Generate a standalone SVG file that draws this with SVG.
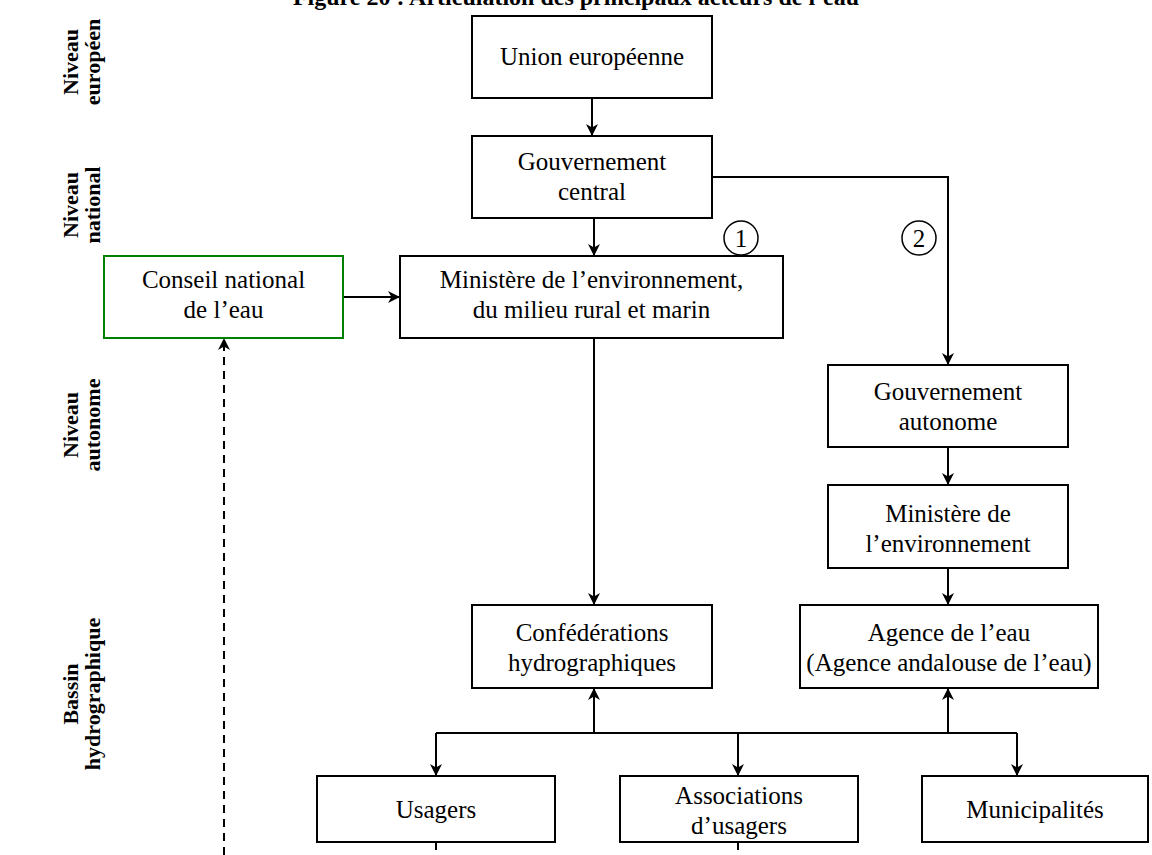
<svg xmlns="http://www.w3.org/2000/svg" width="1152" height="855" viewBox="0 0 1152 855">
<defs>
<marker id="ah" viewBox="0 0 12 12" refX="12" refY="6" markerWidth="12" markerHeight="12" markerUnits="userSpaceOnUse" orient="auto">
<path d="M0,0 L12,6 L0,12 L3.5,6 z" fill="#000"/>
</marker>
<style>
.box{fill:#fff;stroke:#000;stroke-width:2}
.green{fill:#fff;stroke:#008000;stroke-width:2}
.t{font-family:"Liberation Serif","Times New Roman",serif;font-size:25px;fill:#000;text-anchor:middle}
.lab{font-family:"Liberation Serif","Times New Roman",serif;font-size:22px;font-weight:bold;fill:#000;text-anchor:middle}
.title{font-family:"Liberation Serif","Times New Roman",serif;font-size:24px;font-weight:bold;fill:#000;text-anchor:middle}
.c{fill:none;stroke:#000;stroke-width:2}
.d{fill:none;stroke:#000;stroke-width:2;stroke-dasharray:8,6}
</style>
</defs>
<rect width="1152" height="855" fill="#fff"/>
<text class="title" x="576" y="5">Figure 20 : Articulation des principaux acteurs de l’eau</text>

<g id="labels">
<text class="lab" transform="translate(78,62) rotate(-90)">Niveau</text>
<text class="lab" transform="translate(100,62) rotate(-90)">européen</text>
<text class="lab" transform="translate(78,205) rotate(-90)">Niveau</text>
<text class="lab" transform="translate(100,205) rotate(-90)">national</text>
<text class="lab" transform="translate(78,425) rotate(-90)">Niveau</text>
<text class="lab" transform="translate(100,425) rotate(-90)">autonome</text>
<text class="lab" transform="translate(78,694) rotate(-90)">Bassin</text>
<text class="lab" transform="translate(100,694) rotate(-90)">hydrographique</text>
</g>

<g id="connectors">
<path class="c" d="M592,98 V136" marker-end="url(#ah)"/>
<path class="c" d="M594,218 V256" marker-end="url(#ah)"/>
<path class="c" d="M712,177 H948 V365" marker-end="url(#ah)"/>
<path class="c" d="M343,297 H400" marker-end="url(#ah)"/>
<path class="c" d="M594,338 V605" marker-end="url(#ah)"/>
<path class="c" d="M948,447 V485" marker-end="url(#ah)"/>
<path class="c" d="M948,568 V605" marker-end="url(#ah)"/>
<path class="c" d="M436,733 H1017"/>
<path class="c" d="M594,733 V688" marker-end="url(#ah)"/>
<path class="c" d="M948,733 V688" marker-end="url(#ah)"/>
<path class="c" d="M436,733 V776" marker-end="url(#ah)"/>
<path class="c" d="M738,733 V776" marker-end="url(#ah)"/>
<path class="c" d="M1017,733 V776" marker-end="url(#ah)"/>
<path class="d" d="M224,855 V338" marker-end="url(#ah)"/>
<path class="d" d="M436,842 V855"/>
<path class="d" d="M738,842 V855"/>
</g>

<g id="n-ue">
<rect class="box" x="472" y="16" width="240" height="82"/>
<text class="t" x="592" y="65">Union européenne</text>
</g>
<g id="n-gc">
<rect class="box" x="472" y="136" width="240" height="82"/>
<text class="t" x="592" y="170">Gouvernement</text>
<text class="t" x="592" y="200">central</text>
</g>
<g id="n-cne">
<rect class="green" x="104" y="256" width="239" height="82"/>
<text class="t" x="223.5" y="288">Conseil national</text>
<text class="t" x="223.5" y="318">de l’eau</text>
</g>
<g id="n-min">
<rect class="box" x="400" y="256" width="383" height="82"/>
<text class="t" x="591.5" y="288">Ministère de l’environnement,</text>
<text class="t" x="591.5" y="318">du milieu rural et marin</text>
</g>
<g id="mark1">
<circle cx="741" cy="238" r="17" fill="none" stroke="#000" stroke-width="1.5"/>
<text class="t" x="741" y="247">1</text>
</g>
<g id="mark2">
<circle cx="919" cy="238" r="17" fill="none" stroke="#000" stroke-width="1.5"/>
<text class="t" x="919" y="247">2</text>
</g>
<g id="n-ga">
<rect class="box" x="828" y="365" width="240" height="82"/>
<text class="t" x="948" y="400">Gouvernement</text>
<text class="t" x="948" y="430">autonome</text>
</g>
<g id="n-me">
<rect class="box" x="828" y="485" width="240" height="83"/>
<text class="t" x="948" y="522">Ministère de</text>
<text class="t" x="948" y="552">l’environnement</text>
</g>
<g id="n-conf">
<rect class="box" x="472" y="605" width="240" height="83"/>
<text class="t" x="592" y="641">Confédérations</text>
<text class="t" x="592" y="671">hydrographiques</text>
</g>
<g id="n-agence">
<rect class="box" x="800" y="605" width="298" height="83"/>
<text class="t" x="949" y="641">Agence de l’eau</text>
<text class="t" x="949" y="671">(Agence andalouse de l’eau)</text>
</g>
<g id="n-usagers">
<rect class="box" x="317" y="776" width="238" height="66"/>
<text class="t" x="436" y="818">Usagers</text>
</g>
<g id="n-assoc">
<rect class="box" x="620" y="776" width="238" height="66"/>
<text class="t" x="739" y="804">Associations</text>
<text class="t" x="739" y="834">d’usagers</text>
</g>
<g id="n-muni">
<rect class="box" x="922" y="776" width="226" height="66"/>
<text class="t" x="1035" y="818">Municipalités</text>
</g>
</svg>
